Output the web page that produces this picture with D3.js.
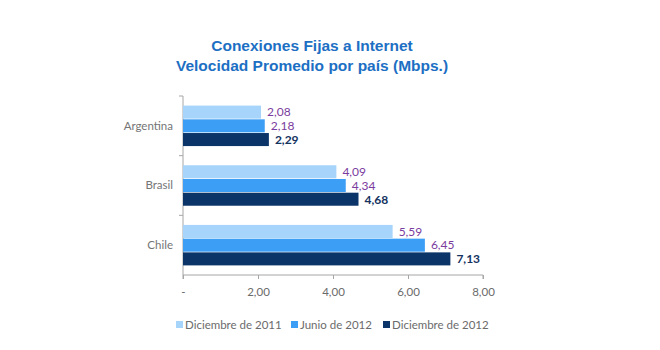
<!DOCTYPE html>
<html>
<head>
<meta charset="utf-8">
<script src="https://cdn.jsdelivr.net/npm/d3@7"></script>
<style>
  body { margin: 0; background: #fff; }
</style>
</head>
<body>
<div id="container"></div>
<script>
// DATA ###############################
const countries = ["Argentina", "Brasil", "Chile"];
const periods = ["Diciembre de 2011", "Junio de 2012", "Diciembre de 2012"];
const dic2011 = [2.08, 4.09, 5.59];
const jun2012 = [2.18, 4.34, 6.45];
const dic2012 = [2.29, 4.68, 7.13];
const xTicks = [0, 2, 4, 6, 8];

const series = [dic2011, jun2012, dic2012];
const rows = countries.map((c, i) => ({
  country: c,
  values: periods.map((p, j) => ({ period: p, value: series[j][i] }))
}));

// CONSTANTS ###############################
const width = 660, height = 350;
const margin = { top: 96, left: 183, right: 177, bottom: 75 };

const colors = ["#a6d4fa", "#3d9ef5", "#0b3468"];
const labelColors = ["#7a3c9e", "#7a3c9e", "#14335f"];
const font = "Lato, 'Open Sans', sans-serif";

const svg = d3.select("#container")
  .append("svg")
  .attr("width", width)
  .attr("height", height);

// TITLE
svg.append("text")
  .attr("x", 312).attr("y", 51)
  .attr("text-anchor", "middle")
  .attr("font-family", "Arial, 'Liberation Sans', sans-serif")
  .attr("font-weight", "bold")
  .attr("font-size", 15.5)
  .attr("fill", "#1c6fc3")
  .selectAll("tspan")
  .data(["Conexiones Fijas a Internet", "Velocidad Promedio por país (Mbps.)"])
  .join("tspan")
  .attr("x", 312)
  .attr("dy", (d, i) => i === 0 ? 0 : 20)
  .text(d => d);

// SCALES
const xScale = d3.scaleLinear()
  .domain([0, 8])
  .range([margin.left, width - margin.right]);

const yScale = d3.scaleBand()
  .domain(countries)
  .range([margin.top, height - margin.bottom]);

const inner = d3.scaleBand()
  .domain(periods)
  .range([0, yScale.bandwidth()])
  .paddingOuter(0.7)
  .paddingInner(0.05);

// X AXIS
const xAxis = d3.axisBottom(xScale)
  .tickValues(xTicks)
  .tickSize(4)
  .tickFormat(d => d === 0 ? "-" : d3.format(".2f")(d).replace(".", ","));

const gx = svg.append("g")
  .attr("transform", `translate(0,${height - margin.bottom})`)
  .call(xAxis);
gx.select(".domain").attr("stroke", "#a6a6a6").attr("d", `M${xScale(0)},4V0H${xScale(8)}V4`);
gx.selectAll(".tick line").attr("stroke", "#a6a6a6");
gx.selectAll(".tick text")
  .attr("font-family", font)
  .attr("font-size", 11.5)
  .attr("fill", "#6b6b6b")
  .attr("dy", "1.2em");

// Y AXIS
const yAxis = d3.axisLeft(yScale).tickSize(0).tickPadding(10);
const gy = svg.append("g")
  .attr("transform", `translate(${margin.left},0)`)
  .call(yAxis);
gy.select(".domain").attr("stroke", "#a6a6a6").attr("d", `M-4,${margin.top}H0V${height - margin.bottom}`);
gy.selectAll(".tick text")
  .attr("font-family", font)
  .attr("font-size", 11.5)
  .attr("fill", "#757575");
// band separators
gy.selectAll("line.sep")
  .data(countries.slice(1))
  .join("line")
  .attr("class", "sep")
  .attr("x1", -4).attr("x2", 0)
  .attr("y1", d => yScale(d)).attr("y2", d => yScale(d))
  .attr("stroke", "#a6a6a6");

// BARS
const groups = svg.selectAll("g.country")
  .data(rows)
  .join("g")
  .attr("class", "country")
  .attr("transform", d => `translate(0,${yScale(d.country)})`);

groups.selectAll("rect.bar")
  .data(d => d.values)
  .join("rect")
  .attr("class", "bar")
  .attr("x", xScale(0))
  .attr("y", d => inner(d.period))
  .attr("width", d => xScale(d.value) - xScale(0))
  .attr("height", inner.bandwidth())
  .attr("fill", (d, i) => colors[i]);

groups.selectAll("text.val")
  .data(d => d.values)
  .join("text")
  .attr("class", "val")
  .attr("x", d => xScale(d.value) + 6)
  .attr("y", d => inner(d.period) + inner.bandwidth() / 2)
  .attr("dy", "0.36em")
  .attr("font-family", font)
  .attr("font-size", 12)
  .attr("font-weight", (d, i) => i === 2 ? "bold" : "normal")
  .attr("fill", (d, i) => labelColors[i])
  .text(d => d3.format(".2f")(d.value).replace(".", ","));

// LEGEND
const legendX = [176, 291, 383];
const legend = svg.selectAll("g.legend")
  .data(periods)
  .join("g")
  .attr("class", "legend")
  .attr("transform", (d, i) => `translate(${legendX[i]},325)`);

legend.append("rect")
  .attr("x", 0).attr("y", -4)
  .attr("width", 7).attr("height", 7)
  .attr("fill", (d, i) => colors[i]);

legend.append("text")
  .attr("x", 9).attr("y", 0)
  .attr("dy", "0.36em")
  .attr("font-family", font)
  .attr("font-size", 11.5)
  .attr("fill", "#6b6b6b")
  .text(d => d);
</script>
</body>
</html>
